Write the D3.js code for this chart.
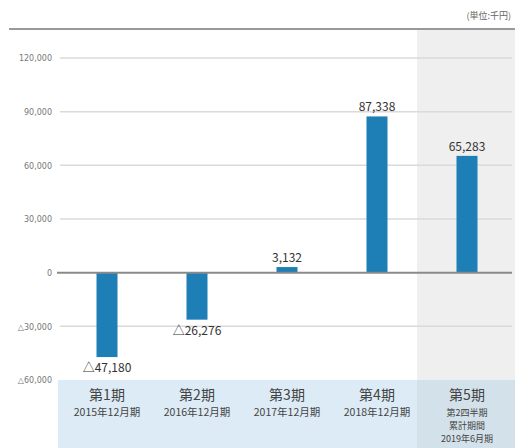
<!DOCTYPE html>
<html>
<head>
<meta charset="utf-8">
<script src="https://cdn.jsdelivr.net/npm/d3@7"></script>
<style>
  body { margin: 0; background: #fff; }
  svg { display: block; font-family: "Noto Sans CJK JP", "Noto Sans", sans-serif; }
</style>
</head>
<body>
<div id="chart"></div>
<script>
// period names, fiscal year labels and values (thousand yen)
var periods = ['第1期', '第2期', '第3期', '第4期', '第5期'];
var subLabels = [
    ['2015年12月期'],
    ['2016年12月期'],
    ['2017年12月期'],
    ['2018年12月期'],
    ['第2四半期', '累計期間', '2019年6月期']
];
var values = [-47180, -26276, 3132, 87338, 65283];
var tickValues = [-60000, -30000, 0, 30000, 60000, 90000, 120000];

var width = 515, height = 448;

// negative numbers are written with a triangle in Japanese reports
function fmt(v) {
    var s = d3.format(',')(Math.abs(v));
    return v < 0 ? '△' + s : s;
}

var svg = d3.select('#chart')
    .append('svg')
    .attr('width', width)
    .attr('height', height);

var x = d3.scaleBand()
    .domain(periods)
    .range([62, 512]);

var y = d3.scaleLinear()
    .domain([-60000, 120000])
    .range([380, 58]);

// unit label and top rule
svg.append('text')
    .attr('x', 511)
    .attr('y', 19)
    .attr('text-anchor', 'end')
    .style('font-size', '9px')
    .style('fill', '#666')
    .text('(単位:千円)');

svg.append('line')
    .attr('x1', 9).attr('x2', width)
    .attr('y1', 29).attr('y2', 29)
    .style('stroke', '#777')
    .style('stroke-width', 1.5);

// shaded column for the interim period
var last = periods[periods.length - 1];
svg.append('rect')
    .attr('x', x(last) - 5)
    .attr('y', 30)
    .attr('width', width - x(last) + 5)
    .attr('height', y(-60000) - 30)
    .style('fill', '#efefef');

// category band at the bottom
svg.append('rect')
    .attr('x', 58)
    .attr('y', y(-60000))
    .attr('width', width - 58)
    .attr('height', height - y(-60000))
    .style('fill', '#dcebf5');

svg.append('rect')
    .attr('x', x(last) - 5)
    .attr('y', y(-60000))
    .attr('width', width - x(last) + 5)
    .attr('height', height - y(-60000))
    .style('fill', '#d3e1ea');

// gridlines
svg.append('g')
    .selectAll('line')
    .data(tickValues.filter(function (d) { return d !== 0 && d !== -60000; }))
    .enter()
    .append('line')
    .attr('x1', 60).attr('x2', 512)
    .attr('y1', function (d) { return y(d); })
    .attr('y2', function (d) { return y(d); })
    .style('stroke', '#dadada')
    .style('stroke-width', 1.5);

// y axis labels
var yAxis = d3.axisLeft(y)
    .tickValues(tickValues)
    .tickSize(0)
    .tickPadding(0)
    .tickFormat(fmt);

var gy = svg.append('g')
    .attr('transform', 'translate(52,0)')
    .call(yAxis);
gy.select('.domain').remove();
gy.selectAll('text')
    .style('font-size', '8px')
    .style('fill', '#777')
    .style('font-family', '"DejaVu Sans", sans-serif')
    .attr('dy', '0.35em');

// bars
var barW = 21;
svg.append('g')
    .selectAll('rect')
    .data(values)
    .enter()
    .append('rect')
    .attr('x', function (d, i) { return x(periods[i]) + x.bandwidth() / 2 - barW / 2; })
    .attr('y', function (d) { return y(Math.max(0, d)); })
    .attr('width', barW)
    .attr('height', function (d) { return Math.abs(y(d) - y(0)); })
    .style('fill', '#1d7fb5');

// zero line
svg.append('line')
    .attr('x1', 57).attr('x2', 512)
    .attr('y1', y(0)).attr('y2', y(0))
    .style('stroke', '#8a8a8a')
    .style('stroke-width', 2);

// value labels
svg.append('g')
    .selectAll('text')
    .data(values)
    .enter()
    .append('text')
    .attr('x', function (d, i) { return x(periods[i]) + x.bandwidth() / 2; })
    .attr('y', function (d) { return d < 0 ? y(d) + 15 : y(d) - 5; })
    .attr('text-anchor', 'middle')
    .style('font-size', '12px')
    .style('fill', '#333')
    .text(fmt);

// category labels
var cats = svg.append('g')
    .selectAll('g')
    .data(periods)
    .enter()
    .append('g')
    .attr('transform', function (d) {
        return 'translate(' + (x(d) + x.bandwidth() / 2) + ',0)';
    });

cats.append('text')
    .attr('y', 400)
    .attr('text-anchor', 'middle')
    .style('font-size', '14px')
    .style('fill', '#444')
    .text(function (d) { return d; });

cats.each(function (d, i) {
    var multi = subLabels[i].length > 1;
    d3.select(this).selectAll('text.sub')
        .data(subLabels[i])
        .enter()
        .append('text')
        .attr('class', 'sub')
        .attr('y', function (s, j) { return multi ? 416 + j * 13 : 416; })
        .attr('text-anchor', 'middle')
        .style('font-size', multi ? '9px' : '10.5px')
        .style('fill', '#444')
        .text(function (s) { return s; });
});
</script>
</body>
</html>
